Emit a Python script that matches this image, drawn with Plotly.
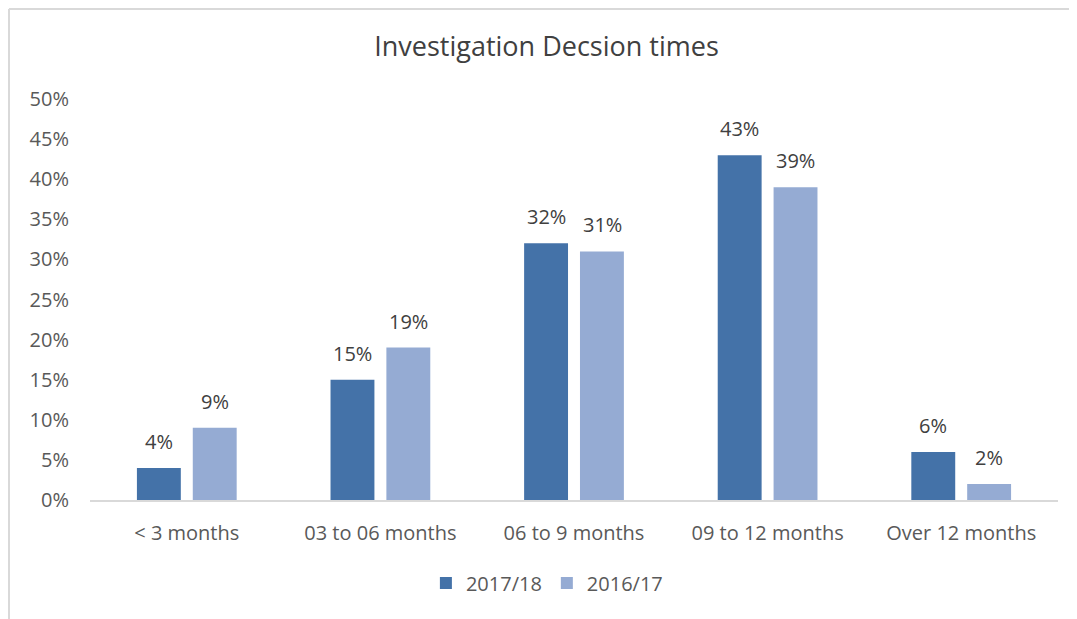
import plotly.graph_objects as go

# Chart data
categories = ["< 3 months", "03 to 06 months", "06 to 9 months", "09 to 12 months", "Over 12 months"]
series_names = ["2017/18", "2016/17"]
values_1718 = [4, 15, 32, 43, 6]
values_1617 = [9, 19, 31, 39, 2]
y_ticks = [0, 5, 10, 15, 20, 25, 30, 35, 40, 45, 50]

colors = ["#4472a8", "#95abd3"]
font_family = "Open Sans, Liberation Sans, sans-serif"

fig = go.Figure()
for name, vals, col in zip(series_names, [values_1718, values_1617], colors):
    fig.add_trace(go.Bar(
        x=categories,
        y=vals,
        name=name,
        marker=dict(color=col, line=dict(width=0)),
    ))

# data labels sit a bit higher above the bars than plotly's "outside" text does
for shift, vals in zip([-28, 28], [values_1718, values_1617]):
    for cat, v in zip(categories, vals):
        fig.add_annotation(x=cat, y=v, text=f"{v}%", showarrow=False,
                           xshift=shift, yshift=11, yanchor="bottom",
                           font=dict(size=20, color="#404040", family=font_family))

fig.update_layout(
    width=1077, height=619,
    margin=dict(l=82, r=27, t=91, b=127),
    paper_bgcolor="white", plot_bgcolor="white",
    barmode="group", bargap=0.423, bargroupgap=0.214,
    title=dict(text="Investigation Decsion times", x=0.5, xanchor="center",
               y=0.937, yanchor="middle",
               font=dict(size=27, color="#404040", family=font_family)),
    font=dict(family=font_family, color="#595959"),
    showlegend=True,
    legend=dict(orientation="h", x=0.472, xanchor="center", y=-0.207, yanchor="middle",
                font=dict(size=20, color="#595959"), itemwidth=30,
                traceorder="normal"),
    xaxis=dict(showgrid=False, showline=True, linecolor="#d9d9d9", linewidth=2,
               ticks="", tickfont=dict(size=20, color="#595959"),
               ticklabelstandoff=14),
    yaxis=dict(range=[0, 50], tickvals=y_ticks, ticktext=[f"{t}%" for t in y_ticks],
               showgrid=False, showline=False, zeroline=False, ticks="",
               tickfont=dict(size=20, color="#595959"), ticklabelstandoff=20),
)

# Outer frame lines (left and top edge of the chart box)
fig.add_shape(type="line", xref="paper", yref="paper",
              x0=-0.0837, x1=-0.0837, y0=1.2244, y1=-0.35,
              line=dict(color="#d9d9d9", width=2))
fig.add_shape(type="line", xref="paper", yref="paper",
              x0=-0.0837, x1=1.05, y0=1.2244, y1=1.2244,
              line=dict(color="#d9d9d9", width=2))

fig.write_html("out.html")
